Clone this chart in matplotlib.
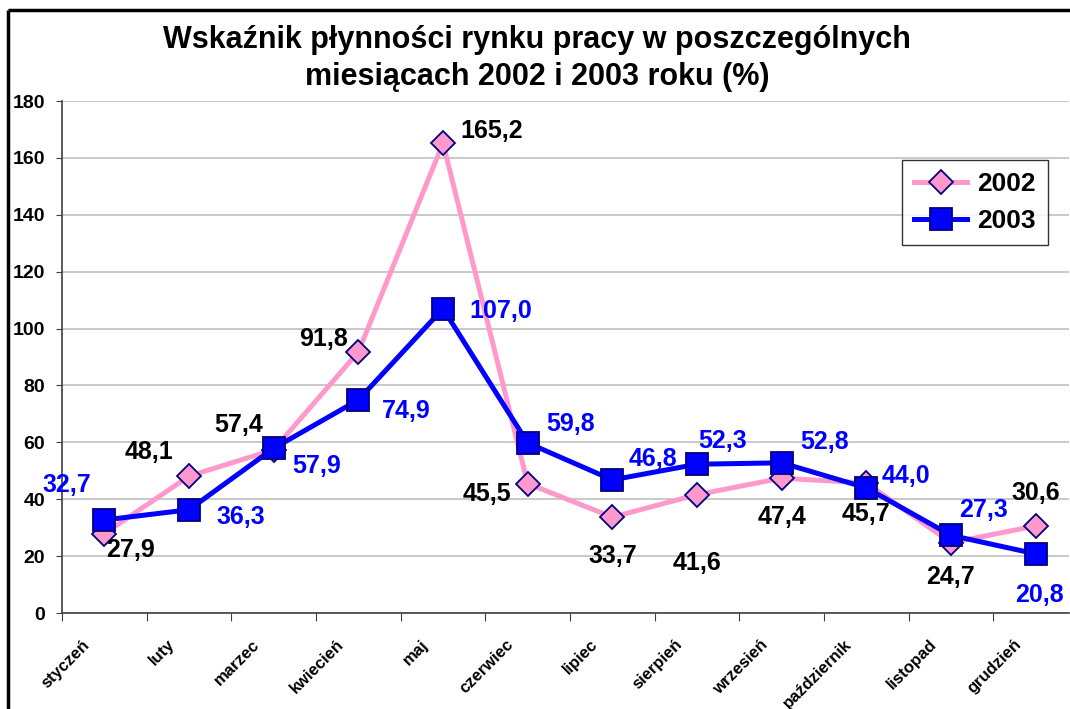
import matplotlib
matplotlib.use("Agg")
import matplotlib.pyplot as plt
from matplotlib.lines import Line2D
from matplotlib.transforms import ScaledTranslation

plt.rcParams['font.family'] = ['Liberation Sans', 'DejaVu Sans']

months = ["styczeń", "luty", "marzec", "kwiecień", "maj", "czerwiec", "lipiec",
          "sierpień", "wrzesień", "październik", "listopad", "grudzień"]
v2002 = [27.9, 48.1, 57.4, 91.8, 165.2, 45.5, 33.7, 41.6, 47.4, 45.7, 24.7, 30.6]
v2003 = [32.7, 36.3, 57.9, 74.9, 107.0, 59.8, 46.8, 52.3, 52.8, 44.0, 27.3, 20.8]
yticks = [0, 20, 40, 60, 80, 100, 120, 140, 160, 180]

# label offsets in pixels (dx, dy)
off2002 = [(26, -16), (-40, 24), (-35, 25), (-35, 13), (49, 12), (-41, -10), (1, -39),
           (0, -68), (0, -39), (0, -31), (-1, -34), (0, 33)]
off2003 = [(-37, 35), (52, -7), (43, -18), (48, -11), (58, -2), (43, 19), (41, 21),
           (26, 23), (43, 21), (40, 12), (32, 25), (4, -41)]

W, H = 1070, 709
fig = plt.figure(figsize=(W / 100, H / 100), dpi=100)
# category spacing ~84.67 px; axes clipped at the right image edge
step = 1016 / 12
right_px = 1069
ax = fig.add_axes([62 / W, (H - 613) / H, (right_px - 62) / W, (613 - 101) / H])

x = list(range(len(months)))
ax.plot(x, v2002, color='#FF99CC', lw=3.6, marker='D', markersize=12,
        markerfacecolor='#FF99CC', markeredgecolor='#000080', markeredgewidth=1.3,
        label='2002', zorder=3)
ax.plot(x, v2003, color='#0000FF', lw=3.6, marker='s', markersize=16,
        markerfacecolor='#0000FF', markeredgecolor='#000080', markeredgewidth=1.3,
        label='2003', zorder=4)

for xi, v, (dx, dy) in zip(x, v2002, off2002):
    ax.annotate(f"{v:.1f}".replace('.', ','), (xi, v), xytext=(dx, dy),
                textcoords='offset pixels', ha='center', va='center',
                fontsize=18, fontweight='bold', color='black', zorder=6,
                annotation_clip=False)
for xi, v, (dx, dy) in zip(x, v2003, off2003):
    ax.annotate(f"{v:.1f}".replace('.', ','), (xi, v), xytext=(dx, dy),
                textcoords='offset pixels', ha='center', va='center',
                fontsize=18, fontweight='bold', color='#0000FF', zorder=6,
                annotation_clip=False)

ax.set_xlim(-0.5, -0.5 + (right_px - 62) / step)
ax.set_ylim(0, 180)
ax.set_yticks(yticks)
ax.set_yticklabels([str(t) for t in yticks], fontsize=14, fontweight='bold')
ax.yaxis.grid(True, color='#C0C0C0', lw=1.2)
ax.set_axisbelow(True)

ax.set_xticks([i + 0.5 for i in range(-1, 11)])
ax.set_xticklabels([])
ax.tick_params(axis='x', length=6, color='#404040', direction='out')
ax.tick_params(axis='y', length=4, color='#404040', direction='out', pad=8)

# month labels, rotated, anchored just left of each category
lab_tr = ax.get_xaxis_transform() + ScaledTranslation(-22 / 100, -24 / 100, fig.dpi_scale_trans)
for xi, m in zip(x, months):
    ax.text(xi, 0, m, transform=lab_tr, rotation=45, rotation_mode='anchor',
            ha='right', va='top', fontsize=12, fontweight='bold', clip_on=False)

for s in ['top', 'right']:
    ax.spines[s].set_visible(False)
for s in ['left', 'bottom']:
    ax.spines[s].set_color('#404040')
    ax.spines[s].set_linewidth(1.2)

leg_x = (1048 - 62) / (right_px - 62)
leg = ax.legend(loc='upper right', bbox_to_anchor=(leg_x, (613 - 160) / 512),
                prop={'weight': 'bold', 'size': 19}, frameon=True, borderaxespad=0,
                fancybox=False, edgecolor='black', handlelength=2.0,
                borderpad=0.45, labelspacing=0.5, handletextpad=0.4)
leg.get_frame().set_linewidth(1.0)

fig.text(0.502, 1 - 40 / H, "Wskaźnik płynności rynku pracy w poszczególnych",
         ha='center', va='center', fontsize=22, fontweight='bold')
fig.text(0.502, 1 - 77 / H, "miesiącach 2002 i 2003 roku (%)",
         ha='center', va='center', fontsize=22, fontweight='bold')

top_y = 1 - 10 / H
left_x = 8 / W
fig.add_artist(Line2D([left_x, 1.0], [top_y, top_y], transform=fig.transFigure,
                      color='black', lw=2.5, solid_capstyle='butt'))
fig.add_artist(Line2D([left_x, left_x], [0.0, top_y], transform=fig.transFigure,
                      color='black', lw=2.5, solid_capstyle='butt'))

fig.savefig("out.png", dpi=100)
